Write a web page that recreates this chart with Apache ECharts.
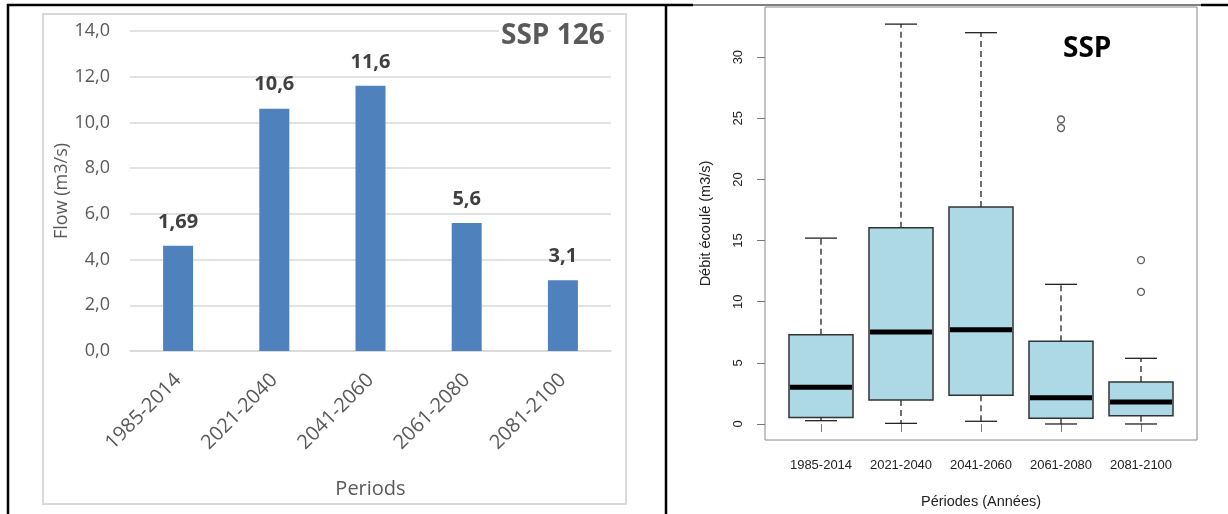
<!DOCTYPE html>
<html>
<head>
<meta charset="utf-8">
<script src="https://cdn.jsdelivr.net/npm/echarts@6/dist/echarts.min.js"></script>
<style>
  html, body { margin: 0; padding: 0; background: #fff; }
  #chart { width: 1228px; height: 514px; }
</style>
</head>
<body>
<div id="chart"></div>
<script>
// left panel: mean flow per period (bars)
var periods = ['1985-2014', '2021-2040', '2041-2060', '2061-2080', '2081-2100'];
var flowValues = [4.6, 10.6, 11.6, 5.6, 3.1];
var flowLabels = ['1,69', '10,6', '11,6', '5,6', '3,1'];

// right panel: boxplot five-number summaries
var boxLow = [0.27, 0.05, 0.22, 0.0, 0.0];
var boxQ1 = [0.54, 1.96, 2.34, 0.46, 0.67];
var boxMed = [3.0, 7.53, 7.7, 2.15, 1.8];
var boxQ3 = [7.3, 16.05, 17.74, 6.77, 3.44];
var boxHigh = [15.2, 32.7, 32.0, 11.42, 5.37];
var outliers = [[4, 24.9], [4, 24.2], [5, 13.4], [5, 10.8]];
var debitTicks = [0, 5, 10, 15, 20, 25, 30];

var boxData = periods.map(function (p, i) {
  return [i + 1, boxLow[i], boxQ1[i], boxMed[i], boxQ3[i], boxHigh[i]];
});

var excelFont = '"Open Sans", "Noto Sans", sans-serif';
var rFont = '"Liberation Sans", Arial, sans-serif';

function renderBox(params, api) {
  var x = api.value(0);
  var low = api.coord([x, api.value(1)]);
  var q1 = api.coord([x, api.value(2)]);
  var med = api.coord([x, api.value(3)]);
  var q3 = api.coord([x, api.value(4)]);
  var high = api.coord([x, api.value(5)]);
  var w = api.size([0.8, 0])[0];
  var cap = w / 4;
  var cx = low[0];
  var dash = { stroke: '#222', lineWidth: 1.3, lineDash: [6, 4] };
  var solid = { stroke: '#222', lineWidth: 1.3 };
  return {
    type: 'group',
    children: [
      { type: 'line', shape: { x1: cx, y1: q3[1], x2: cx, y2: high[1] }, style: dash },
      { type: 'line', shape: { x1: cx, y1: q1[1], x2: cx, y2: low[1] }, style: dash },
      { type: 'line', shape: { x1: cx - cap, y1: high[1], x2: cx + cap, y2: high[1] }, style: solid },
      { type: 'line', shape: { x1: cx - cap, y1: low[1], x2: cx + cap, y2: low[1] }, style: solid },
      { type: 'rect', shape: { x: cx - w / 2, y: q3[1], width: w, height: q1[1] - q3[1] },
        style: { fill: '#add8e6', stroke: '#333', lineWidth: 1.5 } },
      { type: 'line', shape: { x1: cx - w / 2 + 1, y1: med[1], x2: cx + w / 2 - 1, y2: med[1] },
        style: { stroke: '#000', lineWidth: 5 } }
    ]
  };
}

var chart = echarts.init(document.getElementById('chart'));
var option = {
  animation: false,
  backgroundColor: '#fff',
  grid: [
    { left: 130, top: 31, width: 481, height: 320 },
    { left: 765, top: 7, width: 432, height: 440, show: true,
      borderColor: '#888', borderWidth: 1, backgroundColor: 'transparent' }
  ],
  xAxis: [
    {
      gridIndex: 0, type: 'category', data: periods,
      axisLine: { lineStyle: { color: '#d9d9d9', width: 1.5 } },
      axisTick: { show: false },
      axisLabel: { rotate: 45, margin: 26, color: '#595959', fontFamily: excelFont, fontSize: 20 },
      name: 'Periods', nameLocation: 'middle', nameGap: 128,
      nameTextStyle: { color: '#595959', fontFamily: excelFont, fontSize: 20 }
    },
    {
      gridIndex: 1, type: 'value', min: 0.3, max: 5.7,
      axisLine: { show: false },
      splitLine: { show: false },
      axisTick: { show: true, length: 8, customValues: [1, 2, 3, 4, 5], lineStyle: { color: '#777' } },
      axisLabel: {
        customValues: [1, 2, 3, 4, 5], margin: 19, color: '#222', fontFamily: rFont, fontSize: 13,
        formatter: function (v) { return periods[Math.round(v) - 1]; }
      },
      name: 'Périodes (Années)', nameLocation: 'middle', nameGap: 54,
      nameTextStyle: { color: '#222', fontFamily: rFont, fontSize: 14.5 }
    }
  ],
  yAxis: [
    {
      gridIndex: 0, type: 'value', min: 0, max: 14, interval: 2,
      axisLine: { show: false }, axisTick: { show: false },
      splitLine: { lineStyle: { color: '#d9d9d9', width: 1.5 } },
      axisLabel: {
        margin: 20, color: '#595959', fontFamily: excelFont, fontSize: 18,
        formatter: function (v) { return v.toFixed(1).replace('.', ','); }
      },
      name: 'Flow (m3/s)', nameLocation: 'middle', nameGap: 58,
      nameTextStyle: { color: '#595959', fontFamily: excelFont, fontSize: 18 }
    },
    {
      gridIndex: 1, type: 'value', min: -1.31, max: 34.1,
      axisLine: { show: false },
      splitLine: { show: false },
      axisTick: { show: true, length: 8, customValues: debitTicks, lineStyle: { color: '#777' } },
      axisLabel: { customValues: debitTicks, rotate: 90, margin: 20, color: '#222', fontFamily: rFont, fontSize: 13 },
      name: 'Débit écoulé (m3/s)', nameLocation: 'middle', nameGap: 52,
      nameTextStyle: { color: '#222', fontFamily: rFont, fontSize: 14.5 }
    }
  ],
  series: [
    {
      type: 'bar', xAxisIndex: 0, yAxisIndex: 0, data: flowValues, barWidth: 30,
      itemStyle: { color: '#4f81bd' },
      label: {
        show: true, position: 'top', distance: 14, color: '#404040',
        fontFamily: excelFont, fontSize: 20, fontWeight: 'bold',
        formatter: function (p) { return flowLabels[p.dataIndex]; }
      }
    },
    {
      type: 'custom', xAxisIndex: 1, yAxisIndex: 1, data: boxData,
      renderItem: renderBox, encode: { x: 0, y: [1, 2, 3, 4, 5] }
    },
    {
      type: 'scatter', xAxisIndex: 1, yAxisIndex: 1, data: outliers,
      symbol: 'circle', symbolSize: 7,
      itemStyle: { color: '#fff', borderColor: '#333', borderWidth: 1.3 }
    }
  ],
  graphic: [
    // excel chart area border
    { type: 'rect', shape: { x: 43, y: 14, width: 583, height: 490 },
      style: { fill: null, stroke: '#d9d9d9', lineWidth: 2 }, z: 1 },
    { type: 'text', left: 499, top: 22, z: 10,
      style: { text: 'SSP 126', fill: '#595959', font: 'bold 28px ' + excelFont,
        backgroundColor: '#fff', padding: [0, 2] } },
    { type: 'text', left: 1063, top: 35,
      style: { text: 'SSP', fill: '#000', font: 'bold 28px ' + excelFont } },
    // table borders
    { type: 'line', shape: { x1: 7, y1: 5, x2: 693, y2: 5 }, style: { stroke: '#000', lineWidth: 2.5 } },
    { type: 'line', shape: { x1: 693, y1: 5, x2: 1201, y2: 5 }, style: { stroke: '#000', lineWidth: 1 } },
    { type: 'line', shape: { x1: 1201, y1: 5, x2: 1228, y2: 5 }, style: { stroke: '#000', lineWidth: 2.5 } },
    { type: 'line', shape: { x1: 8, y1: 4, x2: 8, y2: 514 }, style: { stroke: '#000', lineWidth: 2.5 } },
    { type: 'line', shape: { x1: 666, y1: 4, x2: 666, y2: 514 }, style: { stroke: '#000', lineWidth: 2.5 } }
  ]
};
chart.setOption(option);
</script>
</body>
</html>
